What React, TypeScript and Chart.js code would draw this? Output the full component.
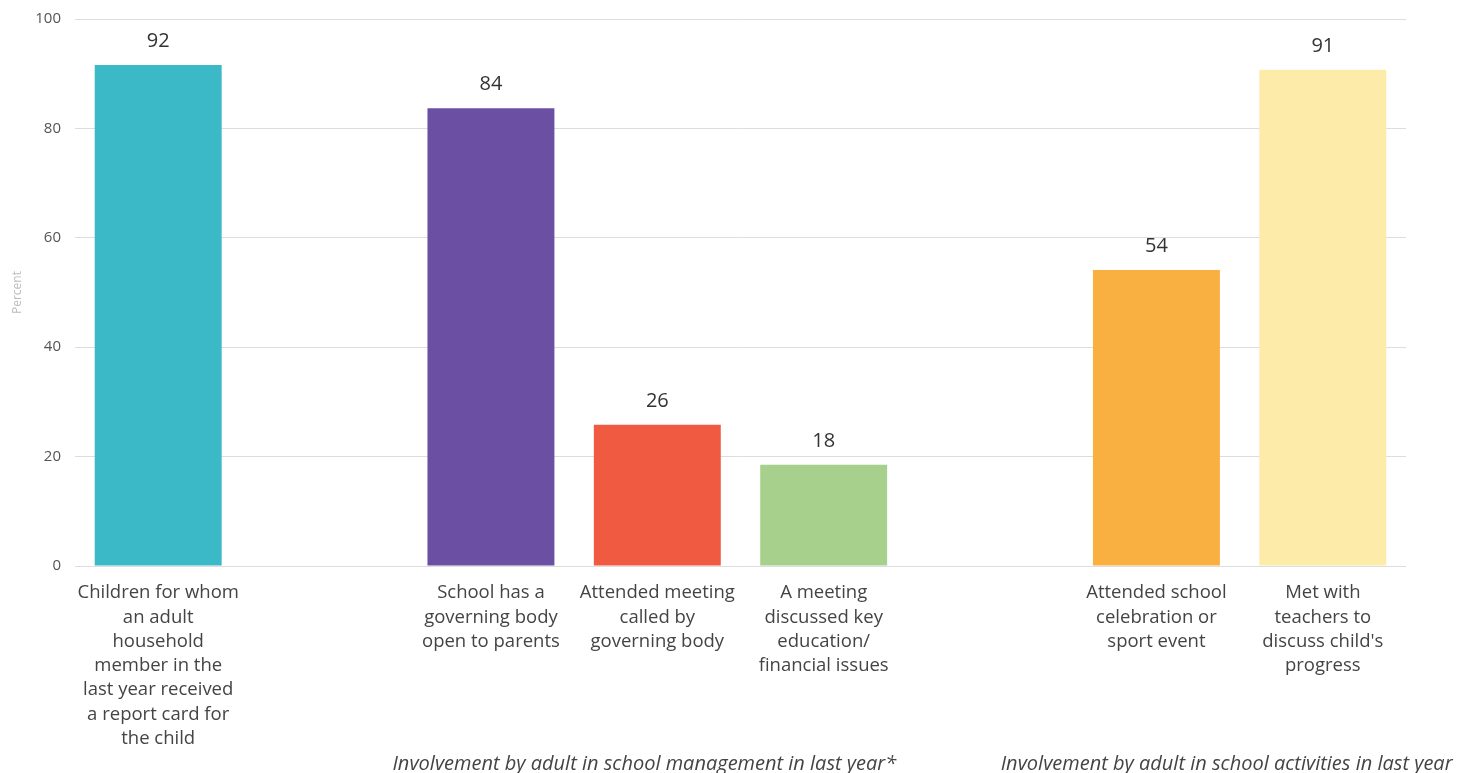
import React, { useEffect, useRef } from "react";
import { Chart, registerables } from "chart.js";

Chart.register(...registerables);

const categories: string[][] = [
  ["Children for whom", "an adult", "household", "member in the", "last year received", "a report card for", "the child"],
  [""],
  ["School has a", "governing body", "open to parents"],
  ["Attended meeting", "called by", "governing body"],
  ["A meeting", "discussed key", "education/", "financial issues"],
  [""],
  ["Attended school", "celebration or", "sport event"],
  ["Met with", "teachers to", "discuss child's", "progress"],
];

const values: (number | null)[] = [91.6, null, 83.7, 25.8, 18.5, null, 54.1, 90.7];
const valueLabels: string[] = ["92", "", "84", "26", "18", "", "54", "91"];

const barColors: string[] = ["#3BB9C6", "#000000", "#6A4FA3", "#F05A41", "#A8D08D", "#000000", "#FAB041", "#FDEBAA"];

const groupLabels: string[] = [
  "Involvement by adult in school management in last year*",
  "Involvement by adult in school activities in last year",
];
const groupRanges: number[][] = [
  [2, 4],
  [6, 7],
];

const yTicks: number[] = [0, 20, 40, 60, 80, 100];

const FONT = "'Open Sans', 'Liberation Sans', sans-serif";

export default function App() {
  const ref = useRef<HTMLCanvasElement | null>(null);

  useEffect(() => {
    document.body.style.margin = "0";
    const canvas = ref.current;
    if (!canvas) return;

    const labelPlugin = {
      id: "labels",
      afterDatasetsDraw(chart: any) {
        const ctx = chart.ctx;
        const meta = chart.getDatasetMeta(0);
        ctx.save();
        ctx.fillStyle = "#333333";
        ctx.font = `20px ${FONT}`;
        ctx.textAlign = "center";
        ctx.textBaseline = "middle";
        meta.data.forEach((bar: any, i: number) => {
          if (values[i] == null) return;
          ctx.fillText(valueLabels[i], bar.x, bar.y - 24);
        });
        ctx.restore();
      },
      afterDraw(chart: any) {
        const ctx = chart.ctx;
        const xs = chart.scales.x;
        ctx.save();
        ctx.fillStyle = "#444444";
        ctx.font = `italic 20px ${FONT}`;
        ctx.textAlign = "center";
        ctx.textBaseline = "middle";
        groupLabels.forEach((g, k) => {
          const [a, b] = groupRanges[k];
          const cx = (xs.getPixelForValue(a) + xs.getPixelForValue(b)) / 2 - 13;
          ctx.fillText(g, cx, chart.height - 9);
        });
        ctx.restore();
      },
    };

    const chart = new Chart(canvas, {
      type: "bar",
      data: {
        labels: categories,
        datasets: [
          {
            data: values,
            backgroundColor: barColors,
            borderWidth: 0,
            barPercentage: 0.763,
            categoryPercentage: 1,
          },
        ],
      },
      options: {
        animation: false,
        responsive: false,
        maintainAspectRatio: false,
        layout: { padding: { top: 19, right: 60, left: 0, bottom: 0 } },
        plugins: {
          legend: { display: false },
          tooltip: { enabled: false },
        },
        scales: {
          x: {
            grid: { display: false },
            border: { display: false },
            ticks: {
              color: "#444444",
              font: { family: FONT, size: 18.5, lineHeight: 1.31 },
              padding: 7,
              maxRotation: 0,
              autoSkip: false,
            },
            afterFit(scale: any) {
              scale.height = 207;
              scale.paddingTop = 0;
              scale.paddingBottom = 0;
            },
          },
          y: {
            min: 0,
            max: 100,
            afterBuildTicks(scale: any) {
              scale.ticks = yTicks.map((v) => ({ value: v }));
            },
            grid: { color: "#dddddd", drawTicks: false, lineWidth: 1 },
            border: { display: false },
            ticks: {
              color: "#555555",
              font: { family: FONT, size: 15 },
              padding: 14,
            },
            title: {
              display: true,
              text: "Percent",
              color: "#bbbbbb",
              font: { family: FONT, size: 12 },
              padding: { top: 10, bottom: 0 },
            },
            afterFit(scale: any) {
              scale.width = 75;
              scale.paddingTop = 0;
              scale.paddingBottom = 0;
            },
          },
        },
      },
      plugins: [labelPlugin],
    });

    return () => chart.destroy();
  }, []);

  return (
    <div style={{ width: 1466, height: 773 }}>
      <canvas ref={ref} width={1466} height={773} style={{ display: "block" }} />
    </div>
  );
}
